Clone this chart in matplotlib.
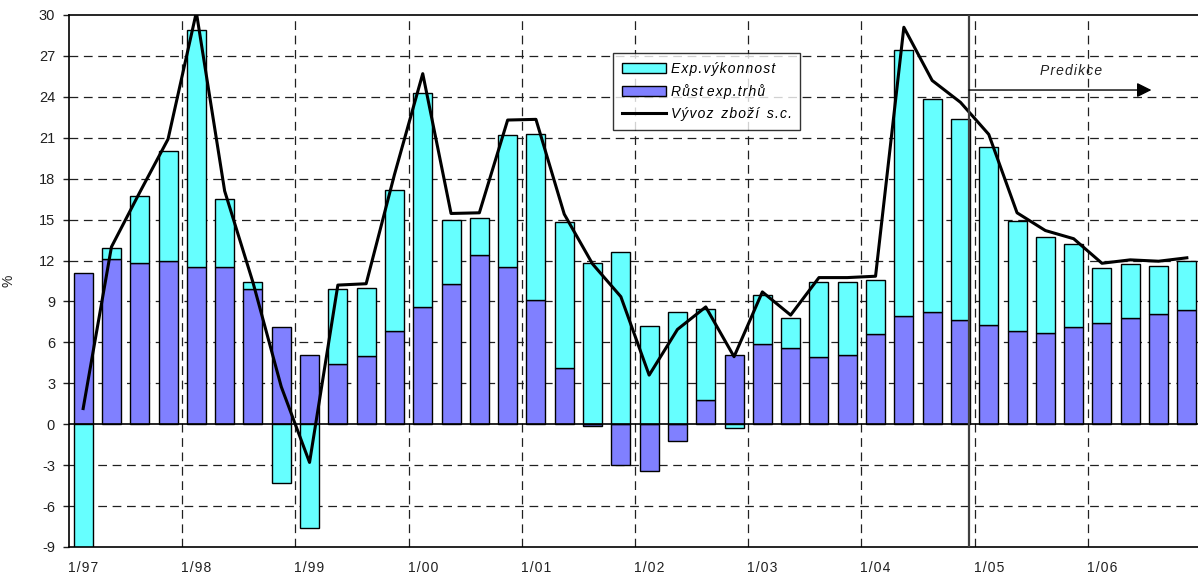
import numpy as np
import matplotlib
matplotlib.use('Agg')
import matplotlib.pyplot as plt

plt.rcParams['font.family'] = ['Liberation Sans', 'DejaVu Sans']
plt.rcParams['axes.unicode_minus'] = False

HS = '\u200a'


def spaced(s):
    # roztažené písmo jako v Excelu
    return HS.join(s)


# čtvrtletí 1/97 .. 4/06
tick_labels = ['1/97', '1/98', '1/99', '1/00', '1/01', '1/02', '1/03', '1/04', '1/05', '1/06']

# Růst exp.trhů (modrá)
rust_trhu = [11.1, 12.1, 11.85, 11.95, 11.5, 11.5, 9.9, 7.1, 5.1, 4.45,
             5.0, 6.8, 8.6, 10.25, 12.4, 11.5, 9.1, 4.15, -0.1, -3.0,
             -3.45, -1.2, 1.8, 5.1, 5.9, 5.6, 4.95, 5.1, 6.6, 7.9,
             8.25, 7.65, 7.25, 6.85, 6.7, 7.15, 7.45, 7.8, 8.1, 8.4]

# Exp.výkonnost (tyrkysová)
vykonnost = [-9.9, 0.8, 4.9, 8.1, 17.4, 5.0, 0.5, -4.3, -7.6, 5.5,
             5.0, 10.4, 15.7, 4.7, 2.7, 9.7, 12.15, 10.7, 11.8, 12.6,
             7.2, 8.25, 6.65, -0.25, 3.6, 2.2, 5.45, 5.35, 3.95, 19.55,
             15.6, 14.75, 13.05, 8.05, 7.0, 6.05, 4.0, 3.95, 3.5, 3.55]

# Vývoz zboží s.c.
vyvoz = [1.15, 13.0, 17.0, 20.9, 30.2, 17.1, 10.4, 2.75, -2.8, 10.2,
         10.3, 18.3, 25.7, 15.45, 15.5, 22.3, 22.35, 15.4, 11.75, 9.35,
         3.6, 6.95, 8.6, 4.95, 9.7, 8.0, 10.75, 10.75, 10.85, 29.1,
         25.2, 23.6, 21.25, 15.5, 14.2, 13.6, 11.8, 12.05, 11.95, 12.2]

x = np.arange(len(rust_trhu))
blue = np.array(rust_trhu)
cyan = np.array(vykonnost)
bottom = np.where((blue > 0) & (cyan > 0), blue, 0)
bottom = np.where((blue < 0) & (cyan < 0), blue, bottom)

fig = plt.figure(figsize=(11.98, 5.79), dpi=100)
ax = fig.add_axes([69 / 1198, 32 / 579, 1132 / 1198, 532 / 579])

grid_kw = dict(color='#202020', lw=0.9, dashes=(7, 4.5), zorder=0)
for y in range(-6, 30, 3):
    if y != 0:
        ax.axhline(y, **grid_kw)
for xv in np.arange(3.5, 39, 4):
    ax.axvline(xv, **grid_kw)

b_blue = ax.bar(x, blue, width=0.67, color='#8080FF', edgecolor='black', lw=1, zorder=2)
b_cyan = ax.bar(x, cyan, bottom=bottom, width=0.67, color='#66FFFF', edgecolor='black', lw=1, zorder=2)
ax.axhline(0, color='black', lw=1.2, zorder=3)
l_vyvoz, = ax.plot(x, vyvoz, color='black', lw=2.2, zorder=4)

# predikce
ax.axvline(31.3, color='#404040', lw=1.6, zorder=5)
ax.annotate('', xy=(37.75, 24.5), xytext=(31.3, 24.5),
            arrowprops=dict(arrowstyle='-|>', color='black', lw=1, mutation_scale=22, shrinkA=0, shrinkB=0),
            zorder=5)
ax.text(34.9, 25.9, spaced('Predikce'), style='italic', fontsize=10,
        color='#202020', ha='center', va='center')

ax.set_xlim(-0.5, 39.5)
ax.set_ylim(-9, 30)
ax.set_yticks(range(-9, 31, 3))
ax.set_xticks(np.arange(0, 40, 4))
ax.set_xticklabels([spaced(t) for t in tick_labels])
ax.tick_params(axis='x', length=0, pad=10, labelsize=10, colors='#202020')
ax.tick_params(axis='y', length=4, width=1, pad=6, labelsize=10.5, colors='#202020')
ax.set_ylabel('%', fontsize=10, color='#202020')
ax.yaxis.set_label_coords(-0.047, 0.5)
for s in ['left', 'bottom', 'top']:
    ax.spines[s].set_linewidth(1.2)
ax.spines['right'].set_visible(False)

leg = ax.legend([b_cyan, b_blue, l_vyvoz],
                [spaced('Exp.výkonnost'), spaced('Růst') + ' ' + spaced('exp.trhů'),
                 spaced('Vývoz') + '  ' + spaced('zboží') + '  ' + spaced('s.c.')],
                loc='upper left', bbox_to_anchor=(0.481, 0.928), frameon=True, fancybox=False,
                edgecolor='black', prop={'style': 'italic', 'size': 10}, handlelength=3.2,
                handleheight=0.7, labelspacing=0.6, borderpad=0.6, handletextpad=0.35,
                borderaxespad=0)
leg.get_frame().set_linewidth(1)
leg.set_zorder(6)

fig.savefig('out.png', dpi=100)
